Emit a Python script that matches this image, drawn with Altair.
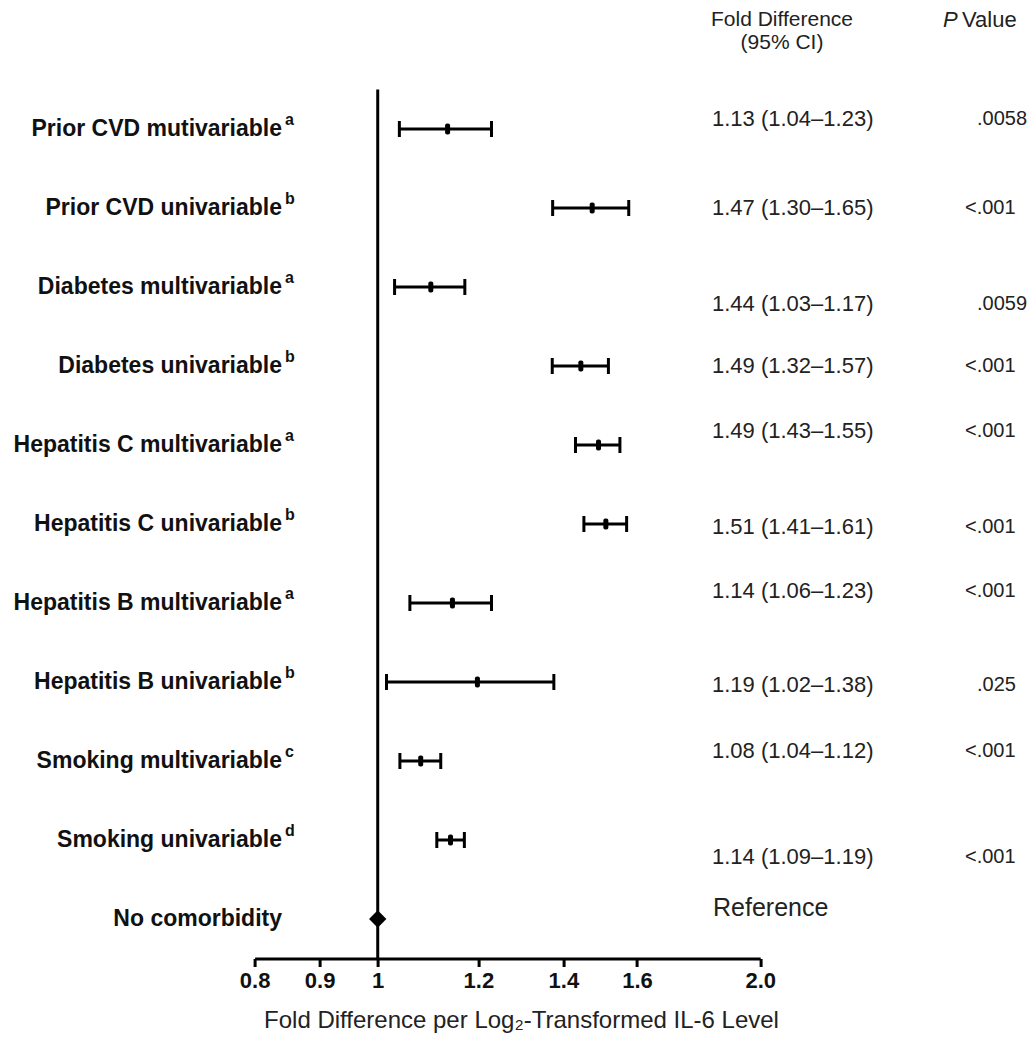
import altair as alt
import pandas as pd

# ---- data ----
labels = [
    "Prior CVD mutivariable", "Prior CVD univariable",
    "Diabetes multivariable", "Diabetes univariable",
    "Hepatitis C multivariable", "Hepatitis C univariable",
    "Hepatitis B multivariable", "Hepatitis B univariable",
    "Smoking multivariable", "Smoking univariable",
    "No comorbidity",
]
notes = ["a", "b", "a", "b", "a", "b", "a", "b", "c", "d", ""]
point_est = [1.135, 1.475, 1.101, 1.445, 1.492, 1.512, 1.145, 1.198, 1.081, 1.141, 1.0]
ci_low = [1.040, 1.373, 1.031, 1.372, 1.431, 1.453, 1.060, 1.016, 1.041, 1.113, None]
ci_high = [1.229, 1.576, 1.171, 1.519, 1.551, 1.570, 1.229, 1.376, 1.121, 1.170, None]
fold_text = [
    "1.13 (1.04\u20131.23)", "1.47 (1.30\u20131.65)", "1.44 (1.03\u20131.17)",
    "1.49 (1.32\u20131.57)", "1.49 (1.43\u20131.55)", "1.51 (1.41\u20131.61)",
    "1.14 (1.06\u20131.23)", "1.19 (1.02\u20131.38)", "1.08 (1.04\u20131.12)",
    "1.14 (1.09\u20131.19)", "Reference",
]
p_text = [".0058", "<.001", ".0059", "<.001", "<.001", "<.001", "<.001", ".025", "<.001", "<.001", ""]
tick_values = [0.8, 0.9, 1.0, 1.2, 1.4, 1.6, 2.0]
reference_value = [1.0]

# layout-only: vertical nudge (px) of the right-hand text in each row
text_nudge = [-10, 0, 17, 0, -14, 3, -12, 3, -10, 17, -11]

df = pd.DataFrame({
    "label": labels, "note": notes, "est": point_est,
    "lo": ci_low, "hi": ci_high, "fold": fold_text, "p": p_text,
    "nudge": text_nudge,
})

FONT = "Liberation Sans"
W, H = 505.6, 869
TITLE = "Fold Difference per Log\u2082-Transformed IL-6 Level"

x_scale = alt.Scale(type="log", domain=[0.8, 2.0], nice=False)
x_axis = alt.Axis(
    values=tick_values,
    labelExpr="datum.value == 1 ? '1' : format(datum.value, '.1f')",
    grid=False, domainColor="black", domainWidth=3,
    tickColor="black", tickWidth=3, tickSize=8,
    labelFont=FONT, labelFontSize=22, labelFontWeight="bold", labelColor="#111",
    labelPadding=4, labelFlush=False, labelOverlap=False,
    title=TITLE,
    titleFont=FONT, titleFontSize=24, titleFontWeight="normal", titleColor="#222",
    titleX=266.4, titleY=69, titleBaseline="alphabetic", titleAlign="center",
)


def X(field):
    return alt.X(field, scale=x_scale, axis=x_axis, title=TITLE)


y_enc = alt.Y("label:N", sort=labels, scale=alt.Scale(type="point", padding=0.5), axis=None)
y_off = alt.YOffset("nudge:Q", scale=None)

base = alt.Chart(df)
has_ci = "isValid(datum.lo)"
no_ci = "!isValid(datum.lo)"

vline = alt.Chart(pd.DataFrame({"v": reference_value})).mark_rule(
    color="black", strokeWidth=3
).encode(x=X("v:Q"))

bars = base.transform_filter(has_ci).mark_rule(color="black", strokeWidth=3).encode(
    x=X("lo:Q"), x2="hi:Q", y=y_enc
)
cap_lo = base.transform_filter(has_ci).mark_tick(color="black", size=16, thickness=3, opacity=1).encode(
    x=X("lo:Q"), y=y_enc
)
cap_hi = base.transform_filter(has_ci).mark_tick(color="black", size=16, thickness=3, opacity=1).encode(
    x=X("hi:Q"), y=y_enc
)
pts = base.transform_filter(has_ci).mark_tick(color="black", size=11, thickness=5, opacity=1,
                                              cornerRadius=2).encode(
    x=X("est:Q"), y=y_enc
)
diamond = base.transform_filter(no_ci).mark_point(
    shape="diamond", filled=True, size=300, color="black", opacity=1
).encode(x=X("est:Q"), y=y_enc)

row_labels = base.mark_text(
    align="right", baseline="middle", font=FONT, fontSize=23, fontWeight="bold", color="#111"
).encode(x=alt.value(27.4), y=y_enc, text="label:N")
sup_labels = base.mark_text(
    align="left", baseline="alphabetic", font=FONT, fontSize=16, fontWeight="bold",
    color="#111", dy=-4
).encode(x=alt.value(30.4), y=y_enc, text="note:N")

fold_col = base.transform_filter("datum.fold != 'Reference'").mark_text(
    align="left", baseline="middle", font=FONT, fontSize=22, color="#222"
).encode(x=alt.value(457.4), y=y_enc, yOffset=y_off, text="fold:N")
ref_col = base.transform_filter("datum.fold == 'Reference'").mark_text(
    align="left", baseline="middle", font=FONT, fontSize=25, color="#222"
).encode(x=alt.value(458.4), y=y_enc, yOffset=y_off, text="fold:N")

p_lt = base.transform_filter("indexof(datum.p, '<') == 0").mark_text(
    align="left", baseline="middle", font=FONT, fontSize=20, color="#222"
).encode(x=alt.value(710.4), y=y_enc, yOffset=y_off, text="p:N")
p_eq = base.transform_filter("indexof(datum.p, '<') != 0 && datum.p != ''").mark_text(
    align="left", baseline="middle", font=FONT, fontSize=20, color="#222"
).encode(x=alt.value(722.4), y=y_enc, yOffset=y_off, text="p:N")

hdr = pd.DataFrame({"t": ["header"]})
h1 = alt.Chart(hdr).mark_text(
    align="center", baseline="middle", font=FONT, fontSize=21, color="#222", text="Fold Difference"
).encode(x=alt.value(527.4), y=alt.value(-70))
h2 = alt.Chart(hdr).mark_text(
    align="center", baseline="middle", font=FONT, fontSize=21, color="#222", text="(95% CI)"
).encode(x=alt.value(527.4), y=alt.value(-47))
h3 = alt.Chart(hdr).mark_text(
    align="left", baseline="middle", font=FONT, fontSize=22, color="#222", fontStyle="italic", text="P"
).encode(x=alt.value(688.4), y=alt.value(-70))
h4 = alt.Chart(hdr).mark_text(
    align="left", baseline="middle", font=FONT, fontSize=22, color="#222", text="Value"
).encode(x=alt.value(707.4), y=alt.value(-70))

chart = alt.layer(
    vline, bars, cap_lo, cap_hi, pts, diamond,
    row_labels, sup_labels, fold_col, ref_col, p_lt, p_eq, h1, h2, h3, h4,
).properties(
    width=W, height=H,
    autosize=alt.AutoSizeParams(type="none"),
    padding={"left": 246.6, "top": 81.5, "right": 266.8, "bottom": 74.5},
).configure_view(stroke=None)

chart.save("out.html", embed_options={"renderer": "svg", "actions": False})
